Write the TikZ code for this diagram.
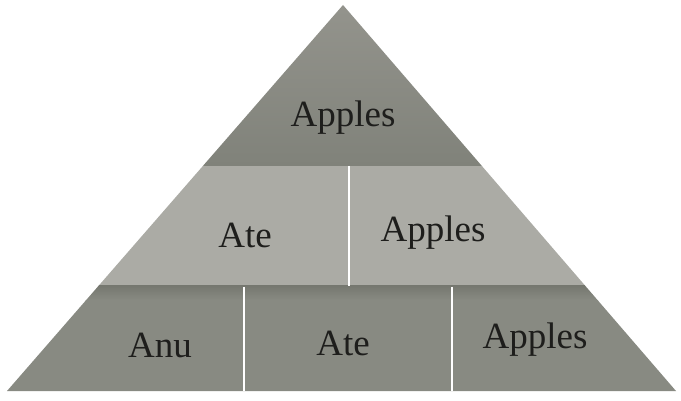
\documentclass[tikz,border=0pt]{standalone}
\usepackage{fontspec}
\setmainfont{Liberation Serif}
\usepackage{tikz}
\usetikzlibrary{positioning}

\definecolor{topgray}{RGB}{148,148,141}
\definecolor{topdark}{RGB}{128,130,122}
\definecolor{midgray}{RGB}{171,171,165}
\definecolor{botgray}{RGB}{136,138,130}
\definecolor{botdark}{RGB}{118,120,112}
\definecolor{inkgray}{RGB}{30,30,28}

\begin{document}
\begin{tikzpicture}[x=1pt,y=-1pt,
  word/.style={text=inkgray, font=\fontsize{37}{40}\selectfont, inner sep=0pt},
  sepline/.style={white, line width=2pt}]
  \useasboundingbox (0,0) rectangle (681,401);

  \coordinate (apex) at (343,5);
  \coordinate (bl) at (7,391);
  \coordinate (br) at (676,391);

  \begin{scope}
    \clip (apex) -- (br) -- (bl) -- cycle;
    % three bands
    \shade[top color=topgray, bottom color=topdark] (0,0) rectangle (681,166);
    \fill[midgray] (0,166) rectangle (681,286);
    \shade[top color=botdark, bottom color=botgray] (0,286) rectangle (681,300);
    \fill[botgray] (0,300) rectangle (681,401);
  \end{scope}

  \coordinate (m1) at (349,166);
  \coordinate (m2) at (349,286);
  \coordinate (b1) at (244,287);
  \coordinate (b2) at (244,391);
  \coordinate (c1) at (452,287);
  \coordinate (c2) at (452,391);
  \draw[sepline] (m1) -- (m2);
  \draw[sepline] (b1) -- (b2);
  \draw[sepline] (c1) -- (c2);

  \node[word] (apples1) at (343,118) {Apples};

  \node[word] (ate2) at (245,235) {Ate};
  \node[word] (apples2) at (433,233) {Apples};

  \node[word] (anu3) at (160,345) {Anu};
  \node[word] (ate3) at (343,343) {Ate};
  \node[word] (apples3) at (535,340) {Apples};
\end{tikzpicture}
\end{document}
